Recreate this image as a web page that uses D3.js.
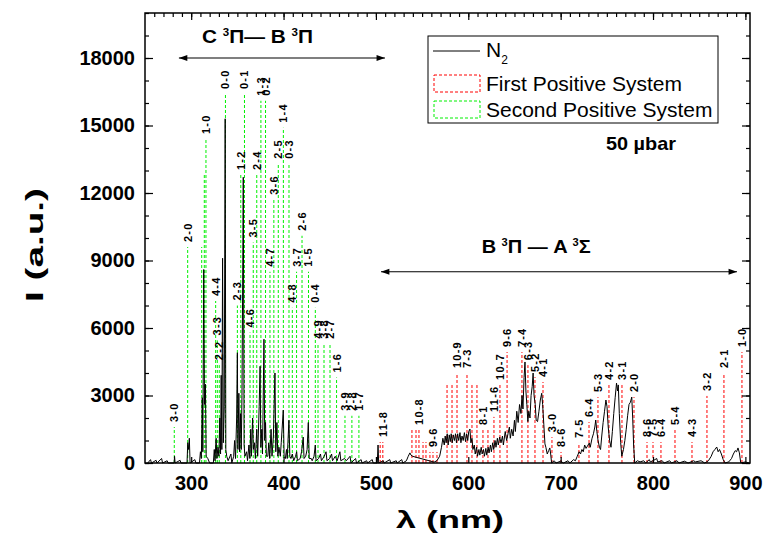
<!DOCTYPE html>
<html>
<head>
<meta charset="utf-8">
<script src="https://cdn.jsdelivr.net/npm/d3@7"></script>
<style>
  body { margin: 0; background: #fff; }
  text { font-family: Arial, "Liberation Sans", sans-serif; }
</style>
</head>
<body>
<script>
// N2 emission spectrum, 50 ubar

// measured spectrum: [wavelength nm, intensity a.u.]
var spectrum = [
  [253,0],[256,150],[257,0],[262,120],[263,0],[268,200],[269,0],[274,100],[275,0],[281.5,0],[282,300],[282.6,0],
  [288,120],[289,0],[295.5,0],[296.3,900],[297.2,600],[298,1100],[298.8,0],[304,150],[305,0],[309,0],[310,500],
  [311,200],[312,2900],[312.6,500],[313.6,8600],[314.4,2600],[315.4,3500],[316.2,300],[318,200],[320,0],[324,0],
  [325,600],[325.8,100],[327,1100],[327.8,200],[329,700],[330,300],[331,2000],[331.8,400],[332.5,3900],[333.2,600],
  [334,9100],[334.8,900],[335.8,2500],[336.8,15300],[337.5,600],[338.5,300],[340,100],[343,400],[344,0],[346,300],
  [347,1000],[348,200],[349.2,2000],[350,4900],[350.6,600],[351.6,3100],[352.4,500],[353.5,2200],[354.2,600],
  [355,3000],[356.4,12700],[357.3,800],[358.2,300],[360,500],[361,100],[362.5,800],[363.5,200],[364.5,1500],
  [365.2,300],[366.5,2000],[367.3,600],[368.5,900],[369.5,200],[371,1500],[372,300],[373.6,2500],[374.6,4300],
  [375.4,700],[376.5,1500],[377.2,400],[378.8,5500],[379.6,1000],[380.5,1800],[381.4,300],[383,300],[384,900],
  [385,200],[386.5,1500],[387.5,300],[389,1200],[390.7,4000],[391.6,500],[392.8,1800],[393.8,300],[395,700],
  [396.5,300],[397.5,900],[399.7,2350],[400.6,300],[402,200],[403.2,600],[404,200],[405.8,1900],[406.8,300],
  [408,200],[409.5,400],[411,100],[413,300],[414.2,500],[415,100],[418,200],[419.5,500],[421.3,1150],[422.2,200],
  [424,300],[425.5,600],[426.8,1800],[427.8,200],[430,200],[431,100],[433,300],[434.4,800],[435.2,100],[438,200],
  [440,400],[441,100],[444,300],[446,500],[447,100],[450,200],[452,400],[453,100],[456,300],[458,100],[461,500],
  [462,100],[466,200],[468,100],[472,300],[473,0],[478,200],[479,0],[484,150],[485,0],[490,100],[491,0],[496,150],
  [497,0],[501.5,0],[502.3,800],[503,0],[508,100],[509,0],[515,150],[516,0],[522,100],[523,0],[528,150],[529,0],
  [533,100],[535,300],[536.8,450],[538,350],[539.5,300],[563,40],[566,100],[569,300],[571,700],[572.5,1100],
  [574,800],[575,1200],[576,900],[577.2,1300],[578.2,800],[579.4,1250],[580.5,950],[581.5,1300],[582.6,900],
  [583.8,1250],[585,1000],[586.2,1300],[587.2,900],[588.5,1300],[589.6,1000],[591,1350],[592,900],[593.2,1200],
  [594.5,1000],[595.8,1350],[597,950],[598.2,1300],[599.4,1000],[600.5,1400],[601.8,1510],[602.8,900],[604,1100],
  [605,600],[606.5,800],[607.5,400],[609,700],[610,300],[611.5,600],[612.5,350],[614,700],[615,400],[616.5,600],
  [617.5,300],[619,650],[620,350],[621.5,700],[622.5,450],[624,800],[625,500],[626.5,900],[627.5,600],[629,1000],
  [630,700],[631.5,1100],[632.5,800],[634,1150],[635.5,900],[637,1200],[638,800],[640,1400],[641.5,1000],
  [643,1300],[644.5,1600],[645.5,1100],[647,1500],[648.5,1200],[650,1900],[651,1400],[652.5,2300],[654,1800],
  [655.5,2600],[657,2200],[658.2,3000],[659.2,2400],[660.4,3800],[661.4,4490],[662.4,3200],[663.4,2600],
  [664.5,1840],[665.5,2300],[666.8,2000],[668,3000],[669.2,3400],[670.2,4000],[671.2,3000],[672.5,2600],
  [673.5,1900],[675,1840],[676.5,2300],[678,2800],[679.5,3100],[680.5,2600],[681.8,1700],[683,850],[684,700],
  [685.5,400],[687,550],[688.3,670],[689.2,400],[690.2,0],[693,100],[695,0],[700,80],[703,0],[708,100],[710,0],
  [714,150],[716,100],[718,300],[720,500],[721.5,400],[723,600],[724.5,500],[726,800],[727.5,650],[729,750],
  [731,890],[732,700],[734,1100],[735.5,1300],[737,1600],[738,1910],[739.2,1400],[740.5,1000],[742,700],
  [743.2,600],[744.5,1200],[746,1800],[747.5,2300],[749,2800],[750.2,2500],[751.5,1600],[753,1000],[754.5,700],
  [756,1400],[757.5,2200],[759,2900],[760.5,3550],[761.6,3200],[762.4,3470],[763.5,2200],[765,900],[766.2,300],
  [768,600],[769.5,1000],[771,1500],[772.5,2100],[774,2600],[775.5,2700],[777,2930],[778,2000],[779,800],
  [780.2,0],[783,100],[786,50],[790,100],[792,0],[796,150],[797,50],[800,100],[804,200],[805,50],[810,100],
  [812,0],[818,100],[820,0],[826,100],[828,0],[834,80],[838,0],[844,100],[846,50],[852,100],[856,0],[860,100],
  [863,300],[865,500],[867,600],[869,710],[870.5,500],[872,600],[874,400],[876,150],[878,0],[882,50],[885,200],
  [887,400],[889,550],[890.5,500],[892,670],[893.5,450],[895,0],[900,50],[904,0]
];

// second positive system (C-B) band positions, marker height, label
var secondPos = [
  [281.7,1600,"3-0"],[296.2,9600,"2-0"],[311.4,9600,""],[314.2,12800,""],[316.0,14400,"1-0"],
  [326.5,7200,"4-4"],[328.3,5450,"3-3"],[330.4,4350,"2-2"],[337.1,16400,"0-0"],[350.0,7000,"2-3"],
  [353.7,12800,"1-2"],[357.7,16400,"0-1"],[363.7,5800,"4-6"],[367.2,9800,"3-5"],[371.0,12800,"2-4"],
  [375.5,16100,"1-3"],[380.5,16100,"0-2"],[385.3,8500,"4-7"],[389.5,11700,"3-6"],[394.3,13300,"2-5"],
  [399.8,14900,"1-4"],[405.9,13300,"0-3"],[409.5,6900,"4-8"],[414.1,8500,"3-7"],[420.0,10100,"2-6"],
  [427.0,8500,"1-5"],[434.4,6900,"0-4"],[437.3,5300,"4-9"],[443.8,5300,"3-8"],[450.3,5300,"2-7"],
  [457.4,3800,"1-6"],[466.5,2100,"3-9"],[474.0,2100,"2-8"],[481.6,2100,"1-7"]
];

// first positive system (B-A)
var firstPos = [
  [504.6,930,""],[507.5,930,"11-8"],[539.0,1470,""],[543.4,1470,""],[546.6,1470,"10-8"],[551.0,930,""],
  [554.2,930,""],[558.5,490,""],[561.8,490,"9-6"],[566.1,490,""],[577.0,3470,""],[582.4,3470,""],
  [587.8,4000,"10-9"],[598.6,4000,"7-3"],[604.0,3470,""],[609.4,3470,""],[615.9,1470,"8-1"],[621.3,1470,""],
  [627.8,2050,"11-6"],[634.3,3470,"10-7"],[642.0,4930,"9-6"],[658.1,4930,"7-4"],[664.6,4350,"6-3"],
  [672.2,3820,"5-2"],[680.9,3600,"4-1"],[690.6,1150,"3-0"],[700.4,490,"8-6"],[719.8,890,"7-5"],
  [730.7,1820,"6-4"],[740.4,2930,"5-3"],[752.3,3470,"4-2"],[766.4,3470,"3-1"],[779.4,2930,"2-0"],
  [793.5,930,"8-6"],[800.0,930,"7-5"],[808.6,930,"6-4"],[823.8,1470,"5-4"],[842.2,930,"4-3"],
  [858.4,2980,"3-2"],[876.8,4000,"2-1"],[896.3,4930,"1-0"]
];

var xTicks = [300, 400, 500, 600, 700, 800, 900];
var yTicks = [0, 3000, 6000, 9000, 12000, 15000, 18000];

var width = 769, height = 534;
var svg = d3.select("body").append("svg").attr("width", width).attr("height", height);

var x = d3.scaleLinear().domain([250, 905]).range([145, 750]);
var y = d3.scaleLinear().domain([0, 20000]).range([463, 13]);

var green = "#00f000", red = "#ff0000";

// band markers
function bands(data, color) {
  var g = svg.append("g");
  g.selectAll("line").data(data).enter().append("line")
    .attr("x1", function(d) { return x(d[0]); })
    .attr("x2", function(d) { return x(d[0]); })
    .attr("y1", y(0))
    .attr("y2", function(d) { return y(d[1]); })
    .attr("stroke", color)
    .attr("stroke-width", 1)
    .attr("stroke-dasharray", "3,2");
  g.selectAll("text").data(data.filter(function(d) { return d[2]; })).enter().append("text")
    .attr("transform", function(d) { return "translate(" + (x(d[0]) + 4) + "," + (y(d[1]) - 5) + ") rotate(-90)"; })
    .attr("font-size", 11)
    .attr("font-weight", "bold")
    .attr("letter-spacing", 1.2)
    .attr("fill", "#000")
    .text(function(d) { return d[2]; });
}
bands(secondPos, green);
bands(firstPos, red);

// spectrum
svg.append("path")
  .datum(spectrum)
  .attr("fill", "none")
  .attr("stroke", "#000")
  .attr("stroke-width", 1)
  .attr("d", d3.line().x(function(d) { return x(d[0]); }).y(function(d) { return y(d[1]); }));

// axes
function clean(g) { g.select(".domain").remove(); }
svg.append("g").attr("transform", "translate(145,0)")
  .call(d3.axisLeft(y).tickValues(d3.range(0, 20001, 1000)).tickSize(-4).tickFormat("")).call(clean);
svg.append("g").attr("transform", "translate(145,0)")
  .call(d3.axisLeft(y).tickValues(yTicks).tickSize(-8).tickPadding(10).tickFormat(d3.format("d")))
  .call(clean)
  .selectAll("text").attr("font-size", 20).attr("font-weight", "bold").attr("fill", "#000")
  .attr("font-family", "Arial, 'Liberation Sans', sans-serif");
svg.append("g").attr("transform", "translate(750,0)")
  .call(d3.axisRight(y).tickValues(d3.range(0, 20001, 1000)).tickSize(-4).tickFormat("")).call(clean);
svg.append("g").attr("transform", "translate(750,0)")
  .call(d3.axisRight(y).tickValues(yTicks).tickSize(-8).tickFormat("")).call(clean);
svg.append("g").attr("transform", "translate(0,13)")
  .call(d3.axisTop(x).tickValues(d3.range(260, 905, 10)).tickSize(-4).tickFormat("")).call(clean);
svg.append("g").attr("transform", "translate(0,13)")
  .call(d3.axisTop(x).tickValues(xTicks).tickSize(-7).tickFormat("")).call(clean);
svg.append("g").attr("transform", "translate(0,463)")
  .call(d3.axisBottom(x).tickValues(xTicks).tickSize(-6).tickPadding(13))
  .call(clean)
  .selectAll("text").attr("font-size", 20).attr("font-weight", "bold").attr("fill", "#000")
  .attr("font-family", "Arial, 'Liberation Sans', sans-serif");
svg.selectAll(".tick line").attr("stroke", "#000").attr("stroke-width", 1.2);

svg.append("rect").attr("x", 145).attr("y", 13).attr("width", 605).attr("height", 450)
  .attr("fill", "none").attr("stroke", "#000").attr("stroke-width", 1.5);

// axis titles
svg.append("text").attr("transform", "translate(43,245) rotate(-90)")
  .attr("text-anchor", "middle").attr("font-size", 24).attr("font-weight", "bold")
  .attr("textLength", 114).attr("lengthAdjust", "spacingAndGlyphs").text("I (a.u.)");
svg.append("text").attr("x", 450).attr("y", 528)
  .attr("text-anchor", "middle").attr("font-size", 24).attr("font-weight", "bold")
  .attr("textLength", 108).attr("lengthAdjust", "spacingAndGlyphs").text("λ (nm)");

// transition annotations
svg.append("defs").html(
  '<marker id="ah" viewBox="0 0 10 10" refX="10" refY="5" markerWidth="9" markerHeight="7" orient="auto-start-reverse">' +
  '<path d="M0,1.5 L10,5 L0,8.5 Z" fill="#000"/></marker>');

// parts: [text, isSuperscript]
function transition(x0, x1, yv, tx, ty, len, parts) {
  svg.append("line").attr("x1", x(x0)).attr("x2", x(x1)).attr("y1", y(yv)).attr("y2", y(yv))
    .attr("stroke", "#000").attr("stroke-width", 1.2)
    .attr("marker-start", "url(#ah)").attr("marker-end", "url(#ah)");
  var t = svg.append("text").attr("x", x(tx)).attr("y", y(ty))
    .attr("font-family", "'Liberation Serif', 'Times New Roman', serif")
    .attr("font-weight", "bold").attr("font-size", 18)
    .attr("textLength", len).attr("lengthAdjust", "spacingAndGlyphs");
  var up = false;
  parts.forEach(function(p) {
    var dy = p[1] ? -7 : (up ? 7 : 0);
    up = p[1];
    t.append("tspan").attr("font-size", p[1] ? 10 : 18).attr("dy", dy).text(p[0]);
  });
}
transition(286.7, 509.8, 18000, 311.7, 18650, 111,
  [["C ", 0], ["3", 1], ["Π", 0], ["— B ", 0], ["3", 1], ["Π", 0]]);
transition(505.5, 890.9, 8500, 614.5, 9330, 109,
  [["B ", 0], ["3", 1], ["Π", 0], [" — A ", 0], ["3", 1], ["Σ", 0]]);

// legend
var lg = svg.append("g");
lg.append("rect").attr("x", 428).attr("y", 36).attr("width", 290).attr("height", 87)
  .attr("fill", "#fff").attr("stroke", "#000").attr("stroke-width", 1);
lg.append("line").attr("x1", 433).attr("x2", 480).attr("y1", 51).attr("y2", 51)
  .attr("stroke", "#000").attr("stroke-width", 1);
lg.append("rect").attr("x", 434).attr("y", 75).attr("width", 46).attr("height", 17)
  .attr("fill", "none").attr("stroke", red).attr("stroke-dasharray", "3,2");
lg.append("rect").attr("x", 434).attr("y", 101).attr("width", 46).attr("height", 17)
  .attr("fill", "none").attr("stroke", green).attr("stroke-dasharray", "3,2");
var n2 = lg.append("text").attr("x", 486).attr("y", 57).attr("font-size", 21);
n2.append("tspan").text("N");
n2.append("tspan").attr("font-size", 12).attr("dy", 7).text("2");
lg.append("text").attr("x", 486).attr("y", 91).attr("font-size", 21).text("First Positive System");
lg.append("text").attr("x", 486).attr("y", 117).attr("font-size", 21).text("Second Positive System");

svg.append("text").attr("x", 606).attr("y", 150).attr("font-size", 19).attr("font-weight", "bold")
  .attr("textLength", 70).attr("lengthAdjust", "spacingAndGlyphs").text("50 µbar");
</script>
</body>
</html>
